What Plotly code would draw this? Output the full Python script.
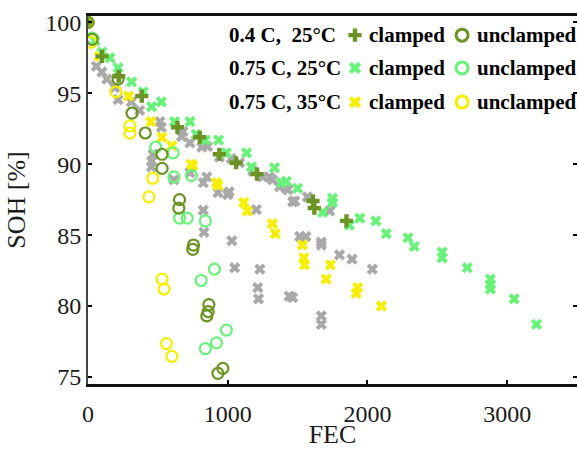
import plotly.graph_objects as go

# ---- data: state of health [%] vs. full equivalent cycles (FEC) ----
# 0.4 C, 25 °C
c04_clamped_fec = [0, 100, 220, 385, 640, 800, 940, 1060, 1210, 1610, 1620, 1850]
c04_clamped_soh = [100.0, 97.6, 96.2, 94.8, 92.6, 91.9, 90.7, 90.1, 89.3, 87.4, 86.9, 86.0]
c04_unclamped_fec = [0, 30, 215, 315, 410, 530, 530, 655, 650, 755, 750, 865, 860, 850, 965, 930]
c04_unclamped_soh = [100.0, 98.8, 96.0, 93.6, 92.2, 90.7, 89.7, 87.5, 86.9, 84.3, 84.0, 80.1, 79.6, 79.3, 75.6, 75.25]

# 0.75 C, 25 °C
c075_25_clamped_fec = [0, 50, 100, 157, 215, 312, 395, 455, 525, 620, 730, 775, 840, 935, 990,
                       1135, 1170, 1335, 1385, 1420, 1500, 1680, 1750, 1750, 1870, 1945, 2060,
                       2135, 2290, 2335, 2535, 2535, 2715, 2880, 2880, 2880, 3050, 3210]
c075_25_clamped_soh = [100.0, 98.7, 97.9, 97.5, 96.8, 95.8, 95.1, 94.05, 94.4, 93.0, 93.0, 92.1, 91.7, 91.7, 90.8,
                       90.8, 89.8, 89.75, 88.7, 88.8, 88.3, 86.6, 87.6, 87.3, 85.7, 86.2, 86.0,
                       85.1, 84.8, 84.2, 83.8, 83.4, 82.7, 81.9, 81.5, 81.2, 80.5, 78.7]
c075_25_unclamped_fec = [0, 30, 485, 610, 615, 740, 655, 710, 840, 905, 810, 990, 920, 840]
c075_25_unclamped_soh = [100.0, 98.9, 91.2, 90.8, 89.1, 89.2, 86.2, 86.2, 86.0, 82.6, 81.8, 78.3, 77.4, 77.0]

# 0.75 C, 35 °C
c075_35_clamped_fec = [0, 80, 290, 450, 530, 600, 740, 750, 920, 930, 1115, 1140, 1320, 1340,
                       1535, 1545, 1550, 1705, 1735, 1920, 1930, 2100]
c075_35_clamped_soh = [100.0, 97.6, 94.8, 93.0, 91.9, 91.3, 90.0, 89.9, 88.7, 88.5, 87.3, 86.7, 85.8, 85.1,
                       84.3, 83.4, 82.9, 81.9, 82.9, 80.9, 81.3, 80.0]
c075_35_unclamped_fec = [0, 20, 200, 300, 300, 436, 464, 530, 545, 562, 600]
c075_35_unclamped_soh = [100.0, 98.6, 95.1, 92.7, 92.2, 87.7, 89.0, 81.9, 81.2, 77.35, 76.45]

# further cells (grey background markers)
other_fec = [60, 100, 135, 190, 215, 310, 370, 515, 525, 680, 670, 730, 815, 855, 940, 1025, 1085,
             1180, 1250, 1320, 1370, 1430, 465, 455, 455, 615, 730, 825, 850, 930, 1010, 825, 1205,
             830, 1030, 1050, 1230, 1215, 1220, 1440, 1465, 1515, 1560, 1670, 1670, 1800, 1890,
             2035, 1670, 1670, 1000, 1300, 1465, 1420, 1480, 1570, 1730]
other_soh = [96.9, 96.5, 96.0, 95.4, 94.55, 94.4, 93.8, 93.0, 92.6, 92.3, 91.95, 91.5, 91.2, 91.25, 90.5, 90.4, 90.1,
             89.5, 89.1, 88.9, 88.4, 88.2, 90.7, 90.2, 89.8, 88.9, 89.4, 88.7, 89.1, 88.0, 88.05, 86.75, 86.8,
             85.2, 84.6, 82.7, 82.6, 81.3, 80.5, 80.7, 80.6, 84.9, 84.9, 84.5, 84.3, 83.6, 83.3,
             82.6, 79.3, 78.7, 87.85, 89.1, 87.35, 88.3, 87.4, 87.7, 86.7]

# legend rows
row_labels = ["0.4 C,\u00a0 25°C", "0.75 C, 25°C", "0.75 C, 35°C"]

OLIVE = "#6b9424"
LGREEN = "#68f27a"
YELLOW = "#f7ee00"
GREY = "#a9a9a9"
FONT = "Liberation Serif"

fig = go.Figure()


def clamped(fec, soh, color, symbol, size):
    fig.add_trace(go.Scatter(x=fec, y=soh, mode="markers", showlegend=False, hoverinfo="skip",
                             marker=dict(symbol=symbol, size=size, color=color, line=dict(width=0))))


def unclamped(fec, soh, color):
    fig.add_trace(go.Scatter(x=fec, y=soh, mode="markers", showlegend=False, hoverinfo="skip",
                             marker=dict(symbol="circle-open", size=11, color=color,
                                         line=dict(width=2.2, color=color))))


clamped(other_fec, other_soh, GREY, "x", 10)
clamped(c075_25_clamped_fec, c075_25_clamped_soh, LGREEN, "x", 10)
clamped(c075_35_clamped_fec, c075_35_clamped_soh, YELLOW, "x", 10)
clamped(c04_clamped_fec, c04_clamped_soh, OLIVE, "cross", 11)
unclamped(c075_25_unclamped_fec, c075_25_unclamped_soh, LGREEN)
unclamped(c075_35_unclamped_fec, c075_35_unclamped_soh, YELLOW)
unclamped(c04_unclamped_fec, c04_unclamped_soh, OLIVE)

# legend block drawn on a hidden overlay axis (0..1 in both directions)
row_y = [0.948, 0.859, 0.766]
row_colors = [OLIVE, LGREEN, YELLOW]
row_symbols = ["cross", "x", "x"]
for ry, col, sym, lab in zip(row_y, row_colors, row_symbols, row_labels):
    fig.add_trace(go.Scatter(x=[0.546], y=[ry], xaxis="x2", yaxis="y2", mode="markers",
                             showlegend=False, hoverinfo="skip",
                             marker=dict(symbol=sym, size=11, color=col, line=dict(width=0))))
    fig.add_trace(go.Scatter(x=[0.765], y=[ry], xaxis="x2", yaxis="y2", mode="markers",
                             showlegend=False, hoverinfo="skip",
                             marker=dict(symbol="circle-open", size=12, color=col,
                                         line=dict(width=3, color=col))))
    for tx, txt in [(0.284, lab), (0.571, "clamped"), (0.791, "unclamped")]:
        fig.add_annotation(x=tx, y=ry, xref="paper", yref="paper", text=f"<b>{txt}</b>",
                           showarrow=False, xanchor="left", yanchor="middle",
                           font=dict(family=FONT, size=21, color="black"))

tickfont = dict(family=FONT, size=24, color="#1a1a1a")
fig.update_layout(
    width=577, height=449,
    margin=dict(l=88, r=0, t=16, b=65),
    paper_bgcolor="white", plot_bgcolor="white",
    xaxis=dict(range=[0, 3500], tickvals=[0, 1000, 2000, 3000], ticks="inside", ticklen=4,
               tickwidth=2, tickcolor="black", showgrid=False, zeroline=False,
               showline=True, linecolor="#111", linewidth=3, mirror=True,
               tickfont=tickfont, ticklabelstandoff=6, automargin=False,
               title=dict(text="FEC", font=dict(family=FONT, size=26, color="#1a1a1a"), standoff=14)),
    yaxis=dict(range=[74.5, 100.45], tickvals=[75, 80, 85, 90, 95, 100], ticks="inside", ticklen=4,
               tickwidth=2, tickcolor="black", showgrid=False, zeroline=False,
               showline=True, linecolor="#444", linewidth=2, mirror="ticks",
               tickfont=tickfont, automargin=False,
               title=dict(text="SOH [%]", font=dict(family=FONT, size=26, color="#1a1a1a"), standoff=12)),
    xaxis2=dict(range=[0, 1], overlaying="x", visible=False),
    yaxis2=dict(range=[0, 1], overlaying="y", visible=False),
)

fig.write_html("out.html")
